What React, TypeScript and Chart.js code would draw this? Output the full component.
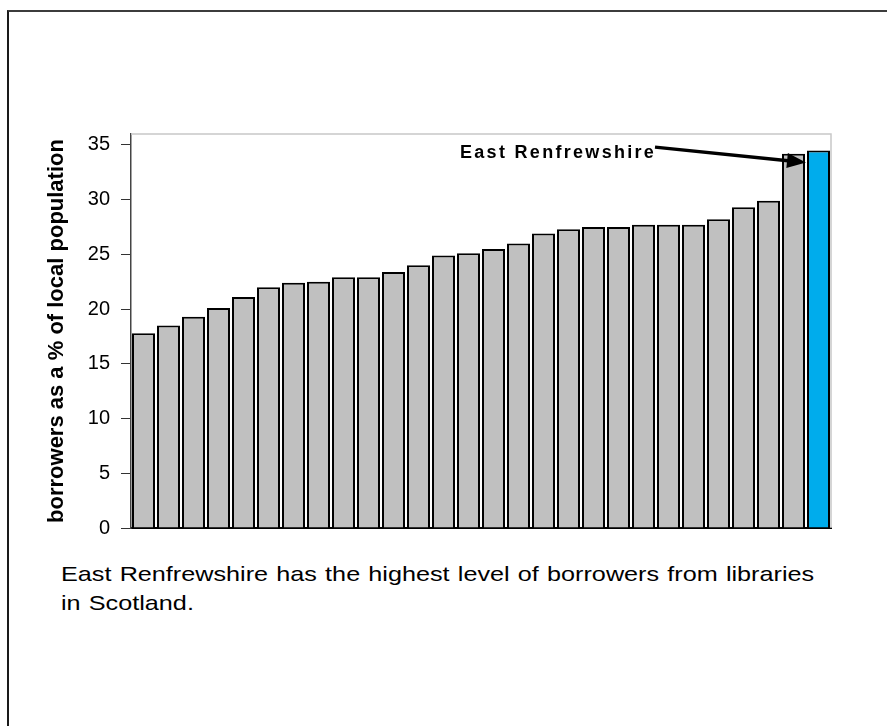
import React, { useEffect, useRef } from "react";
import { Chart, registerables } from "chart.js";

Chart.register(...registerables);

// Councils ranked from lowest to highest share of borrowers
const ranks = [
  "1", "2", "3", "4", "5", "6", "7", "8", "9", "10", "11", "12", "13", "14",
  "15", "16", "17", "18", "19", "20", "21", "22", "23", "24", "25", "26", "27", "28",
];
const borrowersPct = [
  17.8, 18.5, 19.3, 20.1, 21.1, 22.0, 22.4, 22.5, 22.9, 22.9, 23.4, 24.0, 24.9, 25.1,
  25.5, 26.0, 26.9, 27.3, 27.5, 27.5, 27.7, 27.7, 27.7, 28.2, 29.3, 29.9, 34.2, 34.5,
];
const highlightRank = "28";
const yTicks = [0, 5, 10, 15, 20, 25, 30, 35];
const yMax = 36;

const axisTitle = "borrowers as a % of local population";
const calloutText = "East Renfrewshire";
// callout anchors in data space: x = category index, y = percentage
const calloutTextAt = { x: 12.66, y: 33.8 };
const calloutFrom = { x: 20.46, y: 34.8 };
const calloutTo = { x: 26.5, y: 33.4 };

const captionLines = [
  "East Renfrewshire has the highest level of borrowers from libraries",
  "in Scotland.",
];

const GREY = "#c0c0c0";
const BLUE = "#00acec";
const FONT = "'Liberation Sans', Arial, Helvetica, sans-serif";

const plotFrame = {
  id: "plotFrame",
  beforeDatasetsDraw(chart: any) {
    const { ctx, chartArea } = chart;
    ctx.save();
    ctx.strokeStyle = "#c8c8c8";
    ctx.lineWidth = 1.5;
    ctx.beginPath();
    ctx.moveTo(chartArea.left, chartArea.top);
    ctx.lineTo(chartArea.right, chartArea.top);
    ctx.lineTo(chartArea.right, chartArea.bottom);
    ctx.stroke();
    ctx.restore();
  },
};

const callout = {
  id: "callout",
  afterDatasetsDraw(chart: any) {
    const { ctx } = chart;
    const x = chart.scales.x;
    const y = chart.scales.y;
    const tx = x.getPixelForValue(calloutTextAt.x);
    const ty = y.getPixelForValue(calloutTextAt.y);
    const x0 = x.getPixelForValue(calloutFrom.x);
    const y0 = y.getPixelForValue(calloutFrom.y);
    const x1 = x.getPixelForValue(calloutTo.x);
    const y1 = y.getPixelForValue(calloutTo.y);

    ctx.save();
    ctx.fillStyle = "#000";
    ctx.font = `bold 18px ${FONT}`;
    ctx.textAlign = "left";
    ctx.textBaseline = "alphabetic";
    (ctx as any).letterSpacing = "2.3px";
    ctx.fillText(calloutText, tx, ty);
    (ctx as any).letterSpacing = "0px";

    const ang = Math.atan2(y1 - y0, x1 - x0);
    const headLen = 19;
    const headHalf = 7.5;
    const bx = x1 - headLen * Math.cos(ang);
    const by = y1 - headLen * Math.sin(ang);
    ctx.strokeStyle = "#000";
    ctx.lineWidth = 3.5;
    ctx.beginPath();
    ctx.moveTo(x0, y0);
    ctx.lineTo(bx + 1 * Math.cos(ang), by + 1 * Math.sin(ang));
    ctx.stroke();
    ctx.beginPath();
    ctx.moveTo(x1, y1);
    ctx.lineTo(bx + headHalf * Math.sin(ang), by - headHalf * Math.cos(ang));
    ctx.lineTo(bx - headHalf * Math.sin(ang), by + headHalf * Math.cos(ang));
    ctx.closePath();
    ctx.fill();
    ctx.restore();
  },
};

function BorrowersChart() {
  const canvasRef = useRef<HTMLCanvasElement | null>(null);

  useEffect(() => {
    if (!canvasRef.current) return;
    const chart = new Chart(canvasRef.current, {
      type: "bar",
      data: {
        labels: ranks,
        datasets: [
          {
            data: borrowersPct,
            backgroundColor: ranks.map((r) => (r === highlightRank ? BLUE : GREY)),
            borderColor: "#000",
            borderWidth: 2,
            barPercentage: 0.92,
            categoryPercentage: 1,
          },
        ],
      },
      options: {
        animation: false,
        responsive: false,
        devicePixelRatio: 1,
        layout: { padding: { left: 40, top: 134, right: 56, bottom: 32 } },
        plugins: {
          legend: { display: false },
          tooltip: { enabled: false },
        },
        scales: {
          x: {
            grid: { display: false, drawTicks: false },
            ticks: { display: false },
            border: { display: true, color: "#000", width: 2 },
            afterFit: (scale: any) => {
              scale.height = 0;
            },
          },
          y: {
            min: 0,
            max: yMax,
            afterBuildTicks: (scale: any) => {
              scale.ticks = yTicks.map((v) => ({ value: v }));
            },
            afterFit: (scale: any) => {
              scale.width = 91;
            },
            grid: {
              drawOnChartArea: false,
              drawTicks: true,
              tickLength: 10,
              color: "#333",
              lineWidth: 1,
            },
            border: { display: true, color: "#444", width: 1.5 },
            ticks: {
              color: "#000",
              padding: 11,
              font: { family: FONT, size: 20 },
            },
            title: {
              display: true,
              text: axisTitle,
              color: "#000",
              padding: { top: 4, bottom: 4 },
              font: { family: FONT, size: 22, weight: "bold" },
            },
          },
        },
      },
      plugins: [plotFrame, callout],
    });
    return () => chart.destroy();
  }, []);

  return (
    <canvas
      ref={canvasRef}
      width={887}
      height={560}
      style={{ position: "absolute", left: 0, top: 0, display: "block" }}
    />
  );
}

export default function App() {
  return (
    <div
      style={{
        position: "fixed",
        left: 0,
        top: 0,
        width: 887,
        height: 726,
        background: "#fff",
        overflow: "hidden",
      }}
    >
      <div
        style={{
          position: "absolute",
          left: 7,
          top: 10,
          width: 1000,
          height: 1000,
          borderTop: "2px solid #3c3c3c",
          borderLeft: "2px solid #1a1a1a",
        }}
      />
      <BorrowersChart />
      <div
        style={{
          position: "absolute",
          left: 61,
          top: 560,
          fontFamily: FONT,
          fontSize: 21,
          lineHeight: "28.5px",
          wordSpacing: 1,
          whiteSpace: "nowrap",
          color: "#000",
          transform: "scaleX(1.2)",
          transformOrigin: "left top",
        }}
      >
        {captionLines.map((line, i) => (
          <div key={i}>{line}</div>
        ))}
      </div>
    </div>
  );
}
